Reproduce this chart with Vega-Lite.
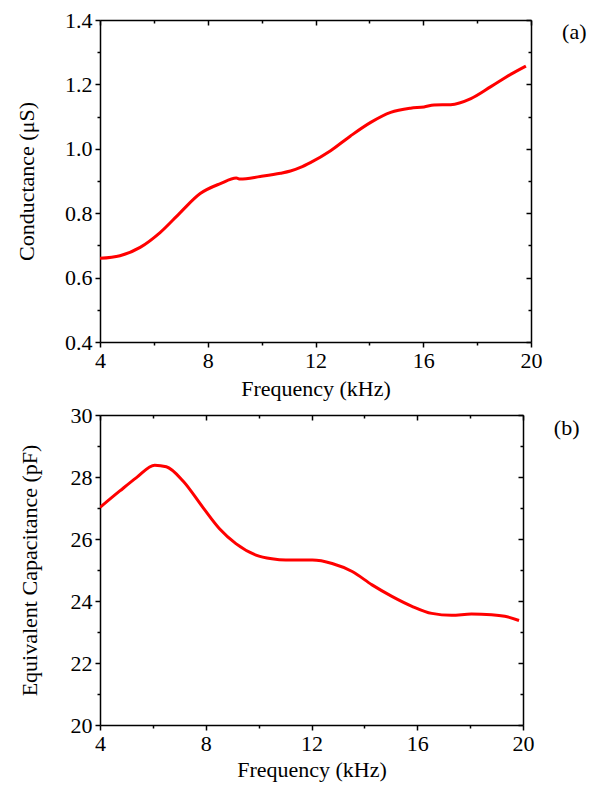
{
  "$schema": "https://vega.github.io/schema/vega-lite/v6.json",
  "background": "white",
  "padding": {"left": 15, "top": 9, "right": 4, "bottom": 8},
  "bounds": "flush",
  "spacing": 73,
  "config": {
    "view": {"stroke": null},
    "font": "Liberation Serif",
    "axis": {
      "labelFont": "Liberation Serif",
      "titleFont": "Liberation Serif",
      "labelFontSize": 22,
      "titleFontSize": 22,
      "titleFontWeight": "normal",
      "labelColor": "black",
      "titleColor": "black",
      "domainColor": "black",
      "domainWidth": 1.5,
      "tickColor": "black",
      "tickWidth": 1.5,
      "grid": false
    }
  },
  "datasets": {
    "cond": [
      {"f": 4.0, "g": 0.660},
      {"f": 4.74, "g": 0.668},
      {"f": 5.49, "g": 0.694},
      {"f": 6.23, "g": 0.740},
      {"f": 6.98, "g": 0.802},
      {"f": 7.72, "g": 0.861},
      {"f": 8.47, "g": 0.892},
      {"f": 9.06, "g": 0.909},
      {"f": 9.2, "g": 0.906},
      {"f": 9.95, "g": 0.914},
      {"f": 10.7, "g": 0.924},
      {"f": 11.07, "g": 0.931},
      {"f": 11.44, "g": 0.942},
      {"f": 11.81, "g": 0.957},
      {"f": 12.56, "g": 0.994},
      {"f": 13.30, "g": 1.040},
      {"f": 14.05, "g": 1.082},
      {"f": 14.79, "g": 1.113},
      {"f": 15.53, "g": 1.126},
      {"f": 16.03, "g": 1.130},
      {"f": 16.40, "g": 1.136},
      {"f": 17.02, "g": 1.137},
      {"f": 17.77, "g": 1.156},
      {"f": 18.51, "g": 1.193},
      {"f": 19.26, "g": 1.232},
      {"f": 19.81, "g": 1.257}
    ],
    "cap": [
      {"f": 4.0, "c": 27.02},
      {"f": 4.75, "c": 27.55},
      {"f": 5.38, "c": 27.98},
      {"f": 6.07, "c": 28.38},
      {"f": 6.51, "c": 28.33},
      {"f": 7.14, "c": 27.87},
      {"f": 7.89, "c": 27.02},
      {"f": 8.52, "c": 26.33},
      {"f": 9.14, "c": 25.85},
      {"f": 9.90, "c": 25.48},
      {"f": 10.5, "c": 25.36},
      {"f": 11.03, "c": 25.32},
      {"f": 12.03, "c": 25.32},
      {"f": 12.78, "c": 25.21},
      {"f": 13.54, "c": 24.95},
      {"f": 14.29, "c": 24.52},
      {"f": 15.04, "c": 24.15},
      {"f": 15.80, "c": 23.83},
      {"f": 16.55, "c": 23.60},
      {"f": 17.30, "c": 23.54},
      {"f": 18.05, "c": 23.58},
      {"f": 18.81, "c": 23.56},
      {"f": 19.31, "c": 23.51},
      {"f": 19.85, "c": 23.37}
    ]
  },
  "vconcat": [
    {
      "width": 431,
      "height": 322,
      "data": {"name": "cond"},
      "layer": [
        {
          "mark": {"type": "line", "color": "#ff0000", "strokeWidth": 3, "interpolate": "monotone", "clip": true},
          "encoding": {
            "x": {"field": "f", "type": "quantitative", "scale": {"domain": [4, 20], "nice": false, "zero": false},
              "axis": {"orient": "bottom", "title": "Frequency (kHz)", "values": [4, 6, 8, 10, 12, 14, 16, 18, 20],
                "labelExpr": "datum.value % 4 == 0 ? datum.label : ''",
                "tickSize": {"condition": {"test": "datum.value % 4 == 0", "value": 5}, "value": 3},
                "labelPadding": 3, "titlePadding": 7, "labelFlush": false}},
            "y": {"field": "g", "type": "quantitative", "scale": {"domain": [0.4, 1.4], "nice": false, "zero": false},
              "axis": {"orient": "left", "title": "Conductance (μS)", "values": [0.4, 0.5, 0.6, 0.7, 0.8, 0.9, 1.0, 1.1, 1.2, 1.3, 1.4],
                "labelExpr": "round(datum.value * 10) % 2 == 0 ? format(datum.value, '.1f') : ''",
                "tickSize": {"condition": {"test": "round(datum.value * 10) % 2 == 0", "value": 5}, "value": 3},
                "labelPadding": 3, "titlePadding": 26, "labelFlush": false}}
          }
        },
        {
          "mark": {"type": "line", "opacity": 0},
          "encoding": {
            "x": {"field": "f", "type": "quantitative",
              "axis": {"orient": "top", "title": "(a)", "titleX": 486, "titleY": 11, "titleAlign": "right", "titleBaseline": "middle", "titleAngle": 0,
                "labels": false, "values": [4, 6, 8, 10, 12, 14, 16, 18, 20],
                "tickSize": {"condition": {"test": "datum.value % 4 == 0", "value": -5}, "value": -3}}},
            "y": {"field": "g", "type": "quantitative",
              "axis": {"orient": "right", "title": null, "labels": false, "values": [0.4, 0.5, 0.6, 0.7, 0.8, 0.9, 1.0, 1.1, 1.2, 1.3, 1.4],
                "tickSize": {"condition": {"test": "round(datum.value * 10) % 2 == 0", "value": -5}, "value": -3}}}
          }
        }
      ],
      "resolve": {"axis": {"x": "independent", "y": "independent"}}
    },
    {
      "width": 423,
      "height": 310,
      "data": {"name": "cap"},
      "layer": [
        {
          "mark": {"type": "line", "color": "#ff0000", "strokeWidth": 3, "interpolate": "monotone", "clip": true},
          "encoding": {
            "x": {"field": "f", "type": "quantitative", "scale": {"domain": [4, 20], "nice": false, "zero": false},
              "axis": {"orient": "bottom", "title": "Frequency (kHz)", "values": [4, 6, 8, 10, 12, 14, 16, 18, 20],
                "labelExpr": "datum.value % 4 == 0 ? datum.label : ''",
                "tickSize": {"condition": {"test": "datum.value % 4 == 0", "value": 5}, "value": 3},
                "labelPadding": 3, "titlePadding": 5, "labelFlush": false}},
            "y": {"field": "c", "type": "quantitative", "scale": {"domain": [20, 30], "nice": false, "zero": false},
              "axis": {"orient": "left", "title": "Equivalent Capacitance (pF)", "values": [20, 21, 22, 23, 24, 25, 26, 27, 28, 29, 30],
                "labelExpr": "datum.value % 2 == 0 ? datum.label : ''",
                "tickSize": {"condition": {"test": "datum.value % 2 == 0", "value": 5}, "value": 3},
                "labelPadding": 3, "titlePadding": 29, "labelFlush": false}}
          }
        },
        {
          "mark": {"type": "line", "opacity": 0},
          "encoding": {
            "x": {"field": "f", "type": "quantitative",
              "axis": {"orient": "top", "title": "(b)", "titleX": 479, "titleY": 12, "titleAlign": "right", "titleBaseline": "middle", "titleAngle": 0,
                "labels": false, "values": [4, 6, 8, 10, 12, 14, 16, 18, 20],
                "tickSize": {"condition": {"test": "datum.value % 4 == 0", "value": -5}, "value": -3}}},
            "y": {"field": "c", "type": "quantitative",
              "axis": {"orient": "right", "title": null, "labels": false, "values": [20, 21, 22, 23, 24, 25, 26, 27, 28, 29, 30],
                "tickSize": {"condition": {"test": "datum.value % 2 == 0", "value": -5}, "value": -3}}}
          }
        }
      ],
      "resolve": {"axis": {"x": "independent", "y": "independent"}}
    }
  ]
}
